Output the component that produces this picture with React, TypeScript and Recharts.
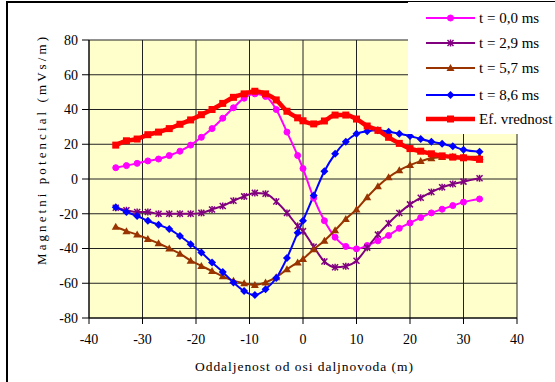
import React from 'react';
import { LineChart, Line, XAxis, YAxis, CartesianGrid, Legend } from 'recharts';

const xs = [-35, -33, -31, -29, -27, -25, -23, -21, -19, -17, -15, -13, -11, -9, -7, -5, -3, -1, 0, 2, 4, 6, 8, 10, 12, 14, 16, 18, 20, 22, 24, 26, 28, 30, 33];
const t00 = [6.5, 7.7, 9, 10.4, 11.5, 13.5, 16, 19.5, 24, 29, 35, 41, 46.5, 49, 47.5, 40, 27, 13.5, 6, -11, -24, -33.5, -38.8, -40.2, -38.3, -35.6, -32.5, -28.4, -25.3, -22.2, -19.5, -17.4, -15.3, -13.3, -11.5];
const t29 = [-16.5, -18, -19, -19, -20, -20, -20, -20, -19.5, -17.5, -15.5, -12.5, -10, -8, -8.5, -13, -19.5, -27, -30, -39, -47.5, -50.8, -50.2, -47, -39.5, -32, -25.5, -19.6, -14.6, -10.8, -7.5, -4.8, -2.9, -1.5, 0.4];
const t57 = [-27.5, -30, -32, -34.5, -37, -40, -43, -47, -50, -53, -56, -58.5, -60, -61, -59.5, -56.5, -52, -48, -46, -40.5, -35.5, -29.5, -23, -17.5, -10.5, -4.2, 1, 5, 8, 10.3, 12, 12.6, 12.8, 12.8, 12.8];
const t86 = [-16.3, -19, -21.3, -24, -26.3, -28.8, -32.8, -37.5, -42.3, -48, -53.5, -59.5, -64.5, -66.8, -63.5, -57, -45.5, -31, -24, -9.5, 4.5, 14.5, 21.5, 26, 27.5, 28, 27.2, 26, 24.8, 23, 21.5, 20.3, 18.8, 16.8, 15.7];
const efv = [19.5, 22, 23, 25.5, 27, 29, 31.5, 34, 37, 40, 43.5, 47, 49, 50.5, 49, 45.5, 39, 35.2, 33.5, 31.7, 33.4, 36.8, 36.8, 34.5, 30.5, 28, 24, 20.5, 17.5, 16, 14.5, 13.3, 12.6, 12.2, 11.3];

const xTicks = [-40, -30, -20, -10, 0, 10, 20, 30, 40];
const yTicks = [-80, -60, -40, -20, 0, 20, 40, 60, 80];
const xTitle = 'Oddaljenost od osi daljnovoda  (m)';
const yTitle = 'Magnetni potencial  (mVs/m)';

const series = [
  { key: 't00', name: 't = 0,0 ms', color: '#FF00FF', width: 2, marker: 'circle' },
  { key: 't29', name: 't = 2,9 ms', color: '#800080', width: 2, marker: 'star' },
  { key: 't57', name: 't = 5,7 ms', color: '#993300', width: 2, marker: 'triangle' },
  { key: 't86', name: 't = 8,6 ms', color: '#0000FF', width: 2, marker: 'diamond' },
  { key: 'efv', name: 'Ef. vrednost', color: '#FF0000', width: 4.5, marker: 'square' },
];

const values: Record<string, number[]> = { t00, t29, t57, t86, efv };
const data = xs.map((x, i) => {
  const row: Record<string, number> = { x };
  for (const s of series) row[s.key] = values[s.key][i];
  return row;
});

const FONT = '"Liberation Serif", "Times New Roman", serif';
const fontStyle = { fontFamily: FONT };

function Marker({ type, cx, cy, color }: { type: string; cx: number; cy: number; color: string }) {
  if (cx == null || cy == null || isNaN(cx) || isNaN(cy)) return null;
  switch (type) {
    case 'circle':
      return <circle cx={cx} cy={cy} r={3} fill={color} stroke={color} />;
    case 'star':
      return (
        <g stroke={color} strokeWidth={1.5}>
          <line x1={cx - 3} y1={cy - 3} x2={cx + 3} y2={cy + 3} />
          <line x1={cx - 3} y1={cy + 3} x2={cx + 3} y2={cy - 3} />
          <line x1={cx} y1={cy - 3.5} x2={cx} y2={cy + 3.5} />
        </g>
      );
    case 'triangle':
      return <polygon points={`${cx},${cy - 4} ${cx - 4},${cy + 3} ${cx + 4},${cy + 3}`} fill={color} />;
    case 'diamond':
      return <polygon points={`${cx},${cy - 4} ${cx + 4},${cy} ${cx},${cy + 4} ${cx - 4},${cy}`} fill={color} />;
    case 'square':
      return <rect x={cx - 3.5} y={cy - 3.5} width={7} height={7} fill={color} />;
    default:
      return null;
  }
}

const renderLegend = () => (
  <svg width={147} height={132} style={{ display: 'block' }}>
    {series.map((s, i) => {
      const y = [16, 41, 66, 93, 117][i];
      return (
        <g key={s.key}>
          <line x1={18} y1={y} x2={67} y2={y} stroke={s.color} strokeWidth={s.width} />
          <Marker type={s.marker} cx={42.5} cy={y} color={s.color} />
          <text x={71} y={y} dy="0.35em" style={fontStyle} fontSize={15} fill="#000">
            {s.name}
          </text>
        </g>
      );
    })}
  </svg>
);

const renderYTitle = (props: any) => {
  const vb = props.viewBox || { x: 0, y: 40 };
  const x = vb.x + 46;
  const y = vb.y + 111;
  return (
    <text x={x} y={y} transform={`rotate(-90 ${x} ${y})`} textAnchor="middle" style={fontStyle} fontSize={13} fill="#000" textLength={228} lengthAdjust="spacing">
      {yTitle}
    </text>
  );
};

const renderXTitle = (props: any) => {
  const vb = props.viewBox || { x: 89, y: 318, width: 428 };
  const x = vb.x + vb.width / 2 + 1;
  const y = vb.y + 53;
  return (
    <text x={x} y={y} textAnchor="middle" style={fontStyle} fontSize={13.5} fill="#000" textLength={218} lengthAdjust="spacing">
      {xTitle}
    </text>
  );
};

const tickStyle = { fontSize: 14, fill: '#000', style: fontStyle, fontFamily: FONT };

export default function App() {
  return (
    <div style={{ position: 'absolute', left: 0, top: 0, width: 555, height: 382, background: '#fff', overflow: 'hidden', fontFamily: FONT }}>
      <div style={{ position: 'absolute', left: 6, top: 1, width: 700, height: 700, borderLeft: '2px solid #000', borderTop: '2px solid #000' }} />
      <div style={{ position: 'absolute', left: 0, top: 0 }}>
        <LineChart width={555} height={382} data={data} margin={{ top: 40, right: 38, left: 0, bottom: 0 }} style={fontStyle}>
          <CartesianGrid fill="#FFFFCC" fillOpacity={1} stroke="#222" strokeWidth={1} horizontalValues={yTicks} verticalValues={xTicks} />
          <XAxis
            type="number"
            dataKey="x"
            domain={[-40, 40]}
            ticks={xTicks}
            height={64}
            stroke="#000"
            tickSize={6}
            tickMargin={10}
            tick={tickStyle}
            allowDataOverflow
            label={renderXTitle}
          />
          <YAxis
            type="number"
            domain={[-80, 80]}
            ticks={yTicks}
            width={89}
            stroke="#000"
            tickSize={7}
            tickMargin={4}
            tick={tickStyle}
            allowDataOverflow
            label={renderYTitle}
          />
          <Legend
            layout="vertical"
            align="center"
            verticalAlign="middle"
            content={renderLegend}
            wrapperStyle={{ left: 408, top: 2, width: 147, height: 132, background: '#fff' }}
          />
          {series.map((s) => (
            <Line
              key={s.key}
              dataKey={s.key}
              name={s.name}
              type="monotone"
              stroke={s.color}
              strokeWidth={s.width}
              isAnimationActive={false}
              dot={(p: any) => <Marker key={`${s.key}-${p.index}`} type={s.marker} cx={p.cx} cy={p.cy} color={s.color} />}
              activeDot={false}
            />
          ))}
        </LineChart>
      </div>
    </div>
  );
}
